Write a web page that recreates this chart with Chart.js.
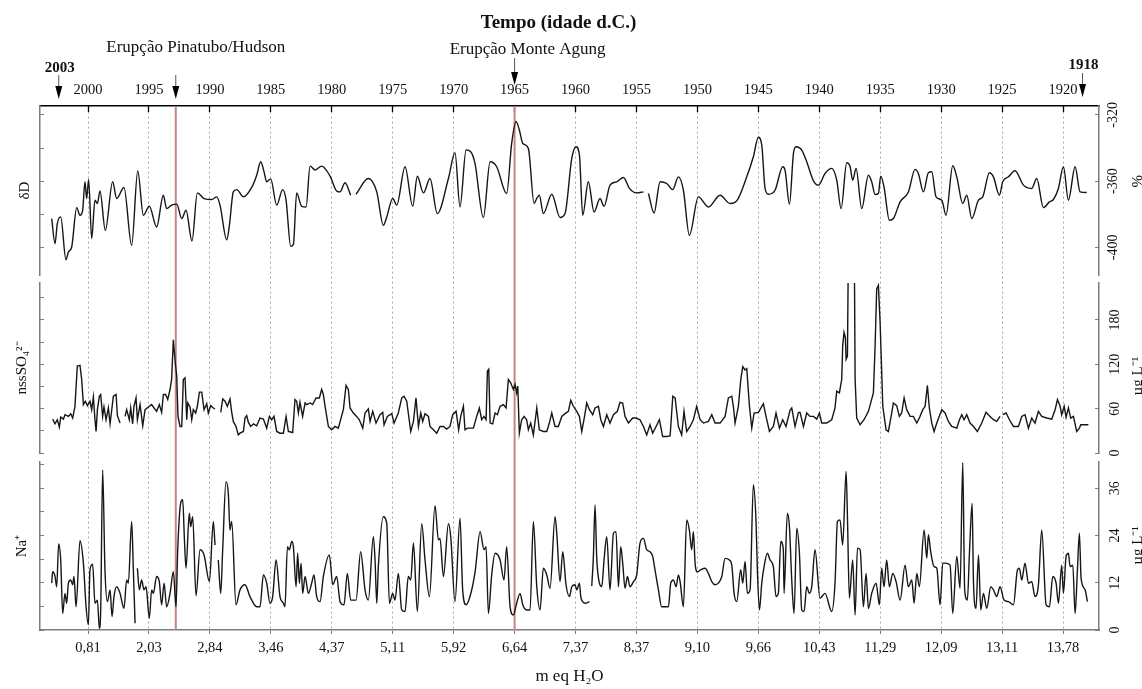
<!doctype html>
<html lang="pt">
<head>
  <meta charset="utf-8">
  <title>Tempo (idade d.C.)</title>
  <script src="https://cdn.jsdelivr.net/npm/chart.js@4.4.1/dist/chart.umd.min.js"></script>
  <style>
    html,body{margin:0;padding:0;background:#fff;}
    canvas{display:block;}
  </style>
</head>
<body>
<canvas id="chart" width="1142" height="689"></canvas>
<script>
/* ─── axis labels ─── */
const YEAR_TICKS   = [2000,1995,1990,1985,1980,1975,1970,1965,1960,1955,1950,1945,1940,1935,1930,1925,1920];
const DEPTH_LABELS = ['0,81','2,03','2,84','3,46','4,37','5,11','5,92','6,64','7,37','8,37','9,10','9,66','10,43','11,29','12,09','13,11','13,78'];

const EVENT_YEARS  = [1992.8, 1965.0];
const EVENT_LABELS = ['Erupção Pinatubo/Hudson', 'Erupção Monte Agung'];
const END_YEARS    = [2002.4, 1918.4];
const END_LABELS   = ['2003', '1918'];

const DD_TICKS  = [-400,-380,-360,-340,-320];
const DD_SHOWN  = [-400,-360,-320];
const SO4_TICKS = [0,30,60,90,120,150,180,210];
const SO4_SHOWN = [0,60,120,180];
const NA_TICKS  = [0,6,12,18,24,30,36,42];
const NA_SHOWN  = [0,12,24,36];

/* ─── series: [year, value], null = gap ─── */
const DD_SERIES = [
  [2002.98,-382.6],[2002.71,-397.8],[2002.52,-385.7],[2002.24,-381.6],[2001.81,-407.5],[2001.61,-402.8],[2001.34,-399.8],
  [2000.93,-376.0],[2000.66,-380.6],[2000.44,-377.6],[2000.25,-360.4],[2000.11,-370.5],[1999.95,-359.0],[1999.70,-394.7],
  [1999.43,-371.5],[1999.23,-373.5],[1999.02,-365.9],[1998.58,-389.7],[1997.98,-360.4],[1997.65,-370.5],[1997.05,-363.8],
  [1996.42,-398.8],[1995.92,-353.9],[1995.46,-380.6],[1994.97,-375.2],[1994.37,-387.7],[1993.82,-368.5],[1993.55,-376.6],
  [1993.14,-374.5],[1992.72,-373.9],[1992.31,-382.6],[1991.96,-377.6],[1991.47,-396.2],[1991.03,-367.1],[1990.48,-370.5],
  [1989.85,-371.1],[1989.44,-369.5],[1989.17,-374.5],[1988.62,-395.4],[1988.40,-386.7],[1988.08,-366.5],[1987.80,-365.1],
  [1987.25,-369.5],[1986.57,-363.8],[1986.16,-356.4],[1985.83,-348.3],[1985.56,-354.3],[1985.34,-360.4],[1985.01,-358.6],
  [1984.52,-374.5],[1984.03,-365.1],[1983.75,-371.5],[1983.37,-399.4],[1983.15,-398.2],[1982.88,-367.1],[1982.47,-375.2],
  [1982.11,-375.6],[1981.78,-350.9],[1981.37,-353.3],[1980.83,-350.9],[1980.14,-357.0],[1979.60,-365.9],[1979.32,-366.5],
  [1978.91,-361.0],[1978.45,-368.5],[1978.20,null],[1978.01,-367.9],[1977.00,-358.4],[1976.31,-366.5],[1975.77,-386.7],
  [1975.49,-381.6],[1975.00,-370.5],[1974.67,-374.5],[1973.99,-351.3],[1973.36,-375.2],[1972.98,-357.0],[1972.48,-367.1],
  [1971.94,-358.4],[1971.34,-379.6],[1970.43,-358.4],[1969.89,-342.8],[1969.48,-375.6],[1968.98,-341.2],[1968.60,-342.2],
  [1968.25,-349.3],[1967.56,-382.0],[1967.01,-348.3],[1966.47,-351.3],[1965.65,-367.5],[1965.24,-337.2],[1964.88,-324.0],
  [1964.61,-329.1],[1964.33,-337.2],[1963.87,-340.2],[1963.40,-373.5],[1963.19,-370.5],[1962.97,-368.5],[1962.64,-379.6],
  [1961.95,-367.9],[1961.27,-382.0],[1960.86,-379.6],[1960.31,-346.3],[1959.96,-339.2],[1959.68,-344.2],[1959.41,-380.6],
  [1958.95,-360.4],[1958.48,-378.6],[1957.99,-370.5],[1957.66,-375.2],[1957.17,-362.4],[1956.62,-360.4],[1956.07,-357.8],
  [1955.58,-364.4],[1954.98,-367.1],[1954.43,-366.5],[1954.20,null],[1954.02,-367.5],[1953.56,-379.2],[1953.06,-360.4],
  [1952.52,-361.4],[1952.03,-365.1],[1951.56,-357.4],[1951.15,-365.5],[1950.66,-392.7],[1949.92,-369.5],[1949.10,-375.6],
  [1948.14,-368.5],[1947.32,-373.5],[1946.77,-371.9],[1945.95,-357.4],[1945.41,-345.3],[1945.00,-333.5],[1944.72,-338.2],
  [1944.45,-364.4],[1944.18,-367.9],[1943.63,-365.5],[1943.00,-351.3],[1942.81,-353.3],[1942.45,-373.9],[1942.12,-343.2],
  [1941.91,-339.2],[1941.44,-341.2],[1941.03,-348.3],[1940.48,-359.8],[1940.07,-362.4],[1939.53,-355.4],[1938.98,-352.3],
  [1938.57,-359.4],[1938.21,-376.6],[1937.75,-348.9],[1937.47,-351.3],[1937.26,-359.4],[1936.98,-352.3],[1936.52,-376.6],
  [1935.97,-356.4],[1935.70,-360.4],[1935.42,-368.1],[1935.15,-367.5],[1934.96,-357.0],[1934.69,-363.4],[1934.25,-383.6],
  [1933.92,-382.6],[1933.37,-372.5],[1932.69,-366.5],[1932.14,-352.9],[1931.87,-355.4],[1931.46,-366.5],[1931.05,-354.9],
  [1930.77,-354.3],[1930.42,-369.5],[1929.95,-371.5],[1929.60,-380.6],[1929.05,-350.7],[1928.72,-357.4],[1928.23,-373.5],
  [1927.90,-368.5],[1927.49,-382.6],[1926.94,-371.5],[1926.59,-369.5],[1926.04,-354.9],[1925.71,-357.4],[1925.22,-368.5],
  [1924.95,-360.4],[1924.48,-357.4],[1923.94,-353.7],[1923.25,-362.4],[1922.57,-364.4],[1922.16,-358.4],[1921.61,-376.0],
  [1921.12,-372.5],[1920.79,-371.1],[1920.38,-364.4],[1919.97,-351.3],[1919.56,-371.5],[1919.01,-351.3],[1918.60,-366.5],
  [1918.06,-366.9]
];

const SO4_SERIES = [
  [2002.90,45.9],[2002.71,39.5],[2002.52,45.0],[2002.35,35.0],[2002.24,48.6],[2002.02,45.9],[2001.89,51.8],[2001.61,49.5],
  [2001.42,53.2],[2001.26,47.3],[2001.07,63.2],[2000.88,117.7],[2000.66,118.6],[2000.52,99.5],[2000.38,65.5],[2000.22,70.0],
  [2000.05,64.0],[1999.84,70.0],[1999.70,58.6],[1999.56,75.9],[1999.43,45.0],[1999.34,29.1],[1999.23,58.6],[1999.07,76.8],
  [1998.96,79.1],[1998.80,49.5],[1998.69,62.3],[1998.52,45.0],[1998.33,60.9],[1998.19,39.5],[1997.92,76.8],[1997.70,79.1],
  [1997.59,50.5],[1997.37,40.5],[1997.15,null],[1996.96,49.5],[1996.83,58.6],[1996.61,45.0],[1996.50,60.9],[1996.34,39.5],
  [1996.23,63.2],[1996.06,74.5],[1995.95,45.0],[1995.73,65.5],[1995.51,36.8],[1995.32,58.6],[1995.05,62.3],[1994.78,65.5],
  [1994.58,60.9],[1994.37,56.4],[1994.15,65.5],[1993.96,55.0],[1993.82,79.1],[1993.63,79.1],[1993.46,72.3],[1993.27,85.9],
  [1993.14,99.5],[1993.00,153.2],[1992.83,120.0],[1992.72,104.1],[1992.62,49.5],[1992.45,35.9],[1992.31,35.9],[1992.18,99.5],
  [1992.04,101.8],[1991.90,45.0],[1991.82,67.7],[1991.63,62.3],[1991.49,45.0],[1991.36,58.6],[1991.17,54.1],[1991.03,63.2],
  [1990.86,82.3],[1990.67,82.3],[1990.48,58.6],[1990.26,66.8],[1990.13,54.1],[1989.93,64.1],[1989.72,60.9],[1989.58,59.5],
  [1989.35,null],[1989.11,55.0],[1988.95,73.2],[1988.76,70.0],[1988.57,63.2],[1988.35,73.2],[1988.21,55.0],[1988.08,42.7],
  [1987.86,35.9],[1987.67,24.5],[1987.53,26.8],[1987.25,29.1],[1987.12,47.3],[1986.98,50.5],[1986.84,41.4],[1986.65,35.9],
  [1986.43,39.5],[1986.16,36.8],[1985.89,47.3],[1985.61,45.9],[1985.34,33.6],[1985.12,49.5],[1984.93,45.0],[1984.74,49.5],
  [1984.52,29.1],[1984.25,26.8],[1983.97,26.8],[1983.75,49.5],[1983.56,29.1],[1983.21,27.7],[1983.02,72.3],[1982.88,70.0],
  [1982.74,54.1],[1982.61,68.6],[1982.39,49.5],[1982.19,67.7],[1982.06,65.5],[1981.78,67.7],[1981.57,65.5],[1981.29,74.5],
  [1981.02,74.5],[1980.83,85.9],[1980.69,79.1],[1980.55,63.2],[1980.28,35.9],[1980.01,31.4],[1979.73,35.9],[1979.46,33.6],
  [1979.05,58.6],[1978.83,91.4],[1978.64,85.9],[1978.50,60.9],[1978.23,54.1],[1977.96,49.5],[1977.74,45.0],[1977.46,33.6],
  [1977.27,54.1],[1977.00,59.5],[1976.86,42.7],[1976.64,56.4],[1976.37,40.5],[1976.04,51.8],[1975.82,55.0],[1975.71,38.2],
  [1975.44,49.5],[1975.08,53.2],[1974.89,40.5],[1974.54,54.1],[1974.26,74.5],[1974.07,76.8],[1973.85,70.0],[1973.52,29.1],
  [1973.30,42.7],[1973.09,74.5],[1972.89,35.9],[1972.70,54.1],[1972.54,42.7],[1972.35,53.2],[1972.07,49.5],[1971.94,35.9],
  [1971.66,31.4],[1971.39,26.8],[1971.12,35.9],[1970.84,35.9],[1970.57,32.3],[1970.30,35.9],[1970.08,51.8],[1969.80,56.4],
  [1969.59,31.4],[1969.42,49.5],[1969.20,63.2],[1969.07,31.4],[1968.87,33.6],[1968.38,33.6],[1968.11,49.5],[1967.89,60.9],
  [1967.70,45.0],[1967.51,49.5],[1967.34,45.0],[1967.23,110.9],[1967.12,113.2],[1967.01,40.5],[1966.80,39.5],[1966.60,54.1],
  [1966.41,51.8],[1966.19,63.2],[1965.92,65.5],[1965.70,60.9],[1965.51,99.5],[1965.32,95.0],[1965.10,85.9],[1964.96,92.7],
  [1964.83,81.4],[1964.74,90.5],[1964.61,26.8],[1964.42,45.0],[1964.22,49.5],[1964.01,45.0],[1963.87,31.4],[1963.68,40.5],
  [1963.46,24.5],[1963.18,60.9],[1962.97,31.4],[1962.64,29.1],[1962.36,29.1],[1962.15,40.5],[1961.95,54.1],[1961.68,35.9],
  [1961.41,35.9],[1961.13,49.5],[1960.86,53.2],[1960.59,56.4],[1960.39,71.4],[1960.18,63.2],[1959.90,56.4],[1959.68,49.5],
  [1959.49,29.1],[1959.30,45.9],[1959.08,67.7],[1958.86,58.6],[1958.59,51.8],[1958.40,60.9],[1958.12,63.2],[1957.93,45.0],
  [1957.71,35.9],[1957.44,51.8],[1957.17,40.5],[1956.89,51.8],[1956.57,56.4],[1956.35,68.6],[1956.13,67.7],[1955.94,49.5],
  [1955.66,40.5],[1955.31,47.3],[1955.03,47.3],[1954.71,45.0],[1954.43,35.9],[1954.16,24.5],[1953.89,38.2],[1953.67,26.8],
  [1953.39,35.9],[1953.12,45.0],[1952.85,22.3],[1952.52,22.3],[1952.24,23.2],[1952.02,76.8],[1951.83,74.5],[1951.56,35.9],
  [1951.29,24.5],[1951.10,56.4],[1950.88,29.1],[1950.60,35.9],[1950.33,45.0],[1950.06,63.2],[1949.78,45.0],[1949.51,40.5],
  [1949.10,42.7],[1948.82,51.8],[1948.55,40.5],[1948.14,40.5],[1947.73,49.5],[1947.46,74.5],[1947.18,76.8],[1947.05,63.2],
  [1946.91,40.5],[1946.64,63.2],[1946.44,99.5],[1946.28,116.8],[1946.09,112.3],[1945.95,114.1],[1945.73,63.2],[1945.54,33.6],
  [1945.35,54.1],[1944.99,55.0],[1944.59,66.8],[1944.37,49.5],[1944.09,29.1],[1943.77,35.9],[1943.55,54.1],[1943.27,33.6],
  [1943.00,45.0],[1942.73,35.9],[1942.40,57.7],[1942.26,60.9],[1941.99,35.9],[1941.71,55.0],[1941.58,55.0],[1941.30,35.9],
  [1941.03,54.1],[1940.76,49.5],[1940.48,49.5],[1940.21,45.9],[1939.99,54.1],[1939.80,40.5],[1939.39,40.5],[1938.98,45.0],
  [1938.71,61.0],[1938.57,83.6],[1938.35,81.4],[1938.16,99.5],[1938.08,145.0],[1937.97,163.2],[1937.86,156.4],[1937.80,126.8],
  [1937.69,131.0],[1937.58,340.0],[1937.15,340.0],[1937.06,99.5],[1936.93,47.3],[1936.65,38.2],[1936.33,45.0],[1935.97,56.4],
  [1935.56,81.4],[1935.42,145.0],[1935.29,222.0],[1935.15,226.8],[1935.01,176.8],[1934.79,63.2],[1934.52,31.4],[1934.33,29.1],
  [1934.06,54.1],[1933.92,67.7],[1933.65,64.1],[1933.43,49.5],[1933.24,54.1],[1933.04,74.5],[1932.83,58.6],[1932.55,49.5],
  [1932.28,49.5],[1932.00,40.5],[1931.79,47.3],[1931.51,58.6],[1931.32,63.2],[1931.13,91.4],[1930.97,60.9],[1930.77,40.5],
  [1930.58,29.1],[1930.36,40.5],[1929.95,58.6],[1929.68,54.1],[1929.41,42.7],[1929.13,35.9],[1928.72,33.6],[1928.50,45.0],
  [1928.31,51.8],[1928.12,45.0],[1927.90,51.8],[1927.63,40.5],[1927.35,35.9],[1927.03,29.1],[1926.67,40.5],[1926.32,55.0],
  [1925.99,49.5],[1925.71,45.0],[1925.44,42.7],[1925.17,49.5],[1925.06,null],[1924.95,51.8],[1924.67,54.1],[1924.40,45.0],
  [1924.07,35.9],[1923.66,35.9],[1923.39,49.5],[1923.12,51.8],[1922.84,33.6],[1922.57,47.3],[1922.30,40.5],[1922.02,56.4],
  [1921.75,49.5],[1921.34,47.3],[1920.93,45.9],[1920.65,58.6],[1920.46,72.3],[1920.24,63.2],[1920.11,51.8],[1919.91,63.2],
  [1919.75,48.6],[1919.56,61.0],[1919.37,47.3],[1919.15,49.5],[1918.88,29.1],[1918.66,33.6],[1918.55,38.2],[1917.92,38.2]
];

const NA_SERIES = [
  [2002.98,11.9],[2002.90,14.8],[2002.71,13.7],[2002.57,11.0],[2002.41,21.9],[2002.24,17.8],[2002.08,4.2],[2001.89,9.3],
  [2001.75,6.8],[2001.61,11.9],[2001.42,12.7],[2001.26,11.5],[2001.15,13.6],[2000.98,5.9],[2000.66,22.7],[2000.38,17.0],
  [2000.16,5.9],[1999.97,1.3],[1999.84,15.3],[1999.62,16.7],[1999.43,6.8],[1999.23,7.6],[1999.07,0.4],[1998.96,5.1],
  [1998.80,40.7],[1998.61,15.3],[1998.41,7.2],[1998.19,10.2],[1998.03,3.4],[1997.87,8.5],[1997.65,11.0],[1997.37,9.3],
  [1997.05,5.5],[1996.83,12.7],[1996.69,11.9],[1996.42,27.6],[1996.28,15.3],[1996.14,1.7],[1996.05,null],[1995.95,15.7],
  [1995.79,10.2],[1995.60,12.7],[1995.41,10.2],[1995.24,11.0],[1994.97,3.0],[1994.78,10.2],[1994.64,9.3],[1994.37,13.6],
  [1994.15,12.3],[1993.96,6.4],[1993.76,11.9],[1993.55,5.9],[1993.27,9.3],[1993.00,14.8],[1992.78,5.9],[1992.64,20.4],
  [1992.40,32.2],[1992.23,33.1],[1992.10,23.7],[1991.96,15.7],[1991.69,29.7],[1991.58,26.3],[1991.41,28.8],[1991.14,8.7],
  [1990.81,20.4],[1990.48,19.1],[1990.04,12.3],[1989.72,27.6],[1989.58,21.6],[1989.45,null],[1989.31,17.8],[1989.11,9.3],
  [1988.95,20.4],[1988.68,37.7],[1988.49,34.8],[1988.35,25.4],[1988.21,27.6],[1987.86,6.4],[1987.53,10.2],[1987.12,11.5],
  [1986.71,8.5],[1986.16,5.9],[1985.89,5.9],[1985.61,14.0],[1985.34,11.9],[1985.07,6.8],[1984.85,8.5],[1984.57,17.8],
  [1984.25,8.5],[1983.97,6.8],[1983.84,5.9],[1983.64,21.2],[1983.48,20.4],[1983.29,22.5],[1983.15,21.2],[1982.93,11.0],
  [1982.80,19.5],[1982.66,11.9],[1982.52,17.0],[1982.39,9.3],[1982.19,13.6],[1981.92,9.3],[1981.65,11.9],[1981.46,14.0],
  [1981.24,8.5],[1980.96,7.2],[1980.69,13.6],[1980.20,19.1],[1979.92,11.5],[1979.60,13.6],[1979.32,7.2],[1979.00,6.4],
  [1978.72,14.4],[1978.45,7.6],[1978.01,7.6],[1977.63,19.9],[1977.27,10.2],[1977.00,7.6],[1976.59,23.7],[1976.45,17.8],
  [1976.31,6.8],[1976.18,16.1],[1975.77,28.8],[1975.49,27.1],[1975.27,6.8],[1975.00,9.3],[1974.81,7.6],[1974.54,14.4],
  [1974.26,5.1],[1973.99,4.7],[1973.72,13.6],[1973.52,12.7],[1973.30,22.1],[1972.98,4.7],[1972.62,27.0],[1972.35,17.8],
  [1971.99,8.5],[1971.53,31.6],[1971.25,22.9],[1971.12,23.3],[1970.84,13.6],[1970.43,27.0],[1970.24,23.7],[1969.89,7.2],
  [1969.48,28.4],[1969.26,10.2],[1968.98,6.4],[1968.66,8.5],[1968.24,14.8],[1967.83,25.0],[1967.51,20.4],[1967.34,21.2],
  [1967.15,4.2],[1966.88,14.0],[1966.60,19.5],[1966.19,17.8],[1965.87,12.7],[1965.65,21.2],[1965.37,5.9],[1965.10,3.8],
  [1964.83,6.8],[1964.55,9.3],[1964.33,6.4],[1964.01,5.1],[1963.73,5.1],[1963.46,27.6],[1963.18,11.0],[1962.91,5.1],
  [1962.64,15.7],[1962.36,14.0],[1962.09,10.6],[1961.68,28.8],[1961.54,24.6],[1961.27,12.3],[1961.05,19.9],[1960.78,11.5],
  [1960.50,8.5],[1960.31,11.0],[1960.04,11.5],[1959.90,10.2],[1959.68,11.9],[1959.57,8.5],[1959.41,7.2],[1959.22,6.8],
  [1958.86,7.2],[1958.76,null],[1958.67,11.2],[1958.54,18.2],[1958.40,31.8],[1958.26,18.2],[1958.04,11.9],[1957.85,11.0],
  [1957.66,17.8],[1957.44,23.7],[1957.17,10.2],[1956.89,24.6],[1956.68,25.0],[1956.48,11.0],[1956.29,21.2],[1956.13,17.0],
  [1955.94,10.6],[1955.74,13.6],[1955.53,11.0],[1955.25,12.3],[1954.98,14.0],[1954.71,22.1],[1954.43,23.3],[1954.16,20.4],
  [1953.89,19.9],[1953.67,18.7],[1953.48,15.3],[1953.20,10.2],[1952.93,5.9],[1952.65,5.9],[1952.38,5.9],[1952.19,11.9],
  [1951.97,12.7],[1951.75,11.0],[1951.56,14.0],[1951.42,12.3],[1951.15,5.9],[1950.88,28.0],[1950.66,25.4],[1950.47,20.4],
  [1950.33,25.0],[1950.19,17.0],[1950.00,14.8],[1949.73,15.3],[1949.37,15.7],[1949.10,14.4],[1948.82,12.3],[1948.55,11.5],
  [1948.28,11.9],[1948.00,13.6],[1947.73,18.2],[1947.38,17.8],[1947.18,16.5],[1946.99,9.3],[1946.77,7.2],[1946.45,15.3],
  [1946.28,11.9],[1946.09,17.4],[1945.90,9.3],[1945.68,10.2],[1945.41,36.9],[1945.19,27.6],[1945.08,15.3],[1944.91,5.1],
  [1944.72,11.9],[1944.53,16.1],[1944.26,19.5],[1944.04,17.8],[1943.77,16.1],[1943.55,8.5],[1943.36,9.3],[1943.16,22.5],
  [1942.95,20.4],[1942.89,9.3],[1942.62,29.7],[1942.45,26.3],[1942.26,12.7],[1942.07,4.2],[1941.85,25.9],[1941.63,19.5],
  [1941.44,5.1],[1941.25,4.7],[1941.03,11.0],[1940.81,9.3],[1940.62,11.0],[1940.35,20.4],[1939.94,8.1],[1939.53,9.3],
  [1938.98,4.7],[1938.71,11.9],[1938.51,27.6],[1938.30,28.0],[1938.08,21.6],[1937.80,40.3],[1937.69,28.8],[1937.53,8.1],
  [1937.26,17.8],[1937.06,3.8],[1936.87,20.8],[1936.65,20.4],[1936.38,5.9],[1936.16,14.4],[1935.97,5.5],[1935.70,9.3],
  [1935.34,11.9],[1935.07,6.4],[1934.88,15.7],[1934.69,11.0],[1934.47,17.8],[1934.25,11.0],[1933.97,14.4],[1933.70,12.3],
  [1933.37,7.6],[1932.96,16.5],[1932.69,11.0],[1932.41,12.7],[1932.22,6.8],[1932.00,14.4],[1931.79,11.0],[1931.40,25.4],
  [1931.18,18.2],[1931.05,24.2],[1930.86,19.9],[1930.58,16.1],[1930.36,15.7],[1930.09,6.4],[1929.87,17.0],[1929.68,17.0],
  [1929.27,16.5],[1929.05,4.2],[1928.72,18.7],[1928.45,10.6],[1928.23,42.5],[1928.07,10.2],[1927.85,7.6],[1927.68,19.5],
  [1927.46,32.2],[1927.35,12.3],[1927.14,5.5],[1926.94,19.1],[1926.75,5.1],[1926.53,9.3],[1926.26,5.5],[1925.93,11.0],
  [1925.71,10.2],[1925.44,8.5],[1925.17,11.0],[1924.84,7.6],[1924.48,7.2],[1924.07,6.4],[1923.74,15.3],[1923.58,15.7],
  [1923.39,12.7],[1923.12,17.0],[1922.84,11.9],[1922.57,12.3],[1922.30,8.5],[1922.02,11.5],[1921.75,25.4],[1921.39,6.4],
  [1921.12,5.9],[1920.84,13.6],[1920.57,11.9],[1920.38,6.8],[1920.11,16.5],[1919.97,9.3],[1919.75,18.7],[1919.56,19.5],
  [1919.42,16.1],[1919.20,16.5],[1919.01,4.2],[1918.82,15.3],[1918.66,24.6],[1918.52,13.2],[1918.19,10.2],[1918.00,7.2]
];

/* ─── look ─── */
const SERIF        = '"Liberation Serif", "Times New Roman", Times, serif';
const INK          = '#161616';
const AXIS_GREY    = '#7c7c7c';
const GRID_GREY    = '#a8a8a8';
const ERUPTION_RED = '#c4877f';
const LEFT_W = 40, RIGHT_W = 43, TOP_H = 106, BOTTOM_H = 59;
const X_MIN = 1917.05, X_MAX = 2003.94;

Chart.defaults.font.family = SERIF;
Chart.defaults.color = '#111';

// one entry per stacked panel, top to bottom
const PANELS = [
  {id:'dD',  data:DD_SERIES,  min:-416.7, max:-314.6, ticks:DD_TICKS,  shown:DD_SHOWN,  title:'δD',        unit:'%',       unitAt:-360, weight:169, pad:5,   titlePad:16, smooth:true},
  {id:'so4', data:SO4_SERIES, min:0,      max:230,    ticks:SO4_TICKS, shown:SO4_SHOWN, title:'nssSO₄²⁻',   unit:'µg L⁻¹',  unitAt:104,  weight:170, pad:9.5, titlePad:13, smooth:false},
  {id:'na',  data:NA_SERIES,  min:0,      max:42.7,   ticks:NA_TICKS,  shown:NA_SHOWN,  title:'Na⁺',        unit:'µg L⁻¹',  unitAt:21.5, weight:168, pad:13,  titlePad:13, smooth:true},
];
const GAP_WEIGHTS = [8, 9];

const fixTicks = list => s => { s.ticks = list.map(v => ({value:v})); };

const rightAxis = p => ({
  type:'linear', position:'right', stack:'panels', stackWeight:p.weight, min:p.min, max:p.max,
  afterBuildTicks: fixTicks(p.ticks),
  afterFit: s => { s.width = RIGHT_W; },
  ticks:{callback:v => p.shown.includes(v) ? String(v) : '', minRotation:90, maxRotation:90,
         crossAlign:'center', padding:p.pad, font:{size:14}, color:'#111'},
  grid:{drawOnChartArea:false, tickLength:-4, color:AXIS_GREY, lineWidth:1},
  border:{color:AXIS_GREY, width:1.5}
});
const leftAxis = p => ({
  type:'linear', position:'left', stack:'panels', stackWeight:p.weight, min:p.min, max:p.max,
  afterBuildTicks: fixTicks(p.ticks),
  afterFit: s => { s.width = LEFT_W; },
  ticks:{display:false},
  grid:{drawOnChartArea:false, tickLength:-4, color:AXIS_GREY, lineWidth:1},
  border:{color:AXIS_GREY, width:1.5},
  title:{display:true, text:p.title, font:{size:15}, color:'#111', padding:{top:p.titlePad, bottom:0}}
});
const gapAxis = (pos, w) => ({type:'linear', position:pos, stack:'panels', stackWeight:w, display:false});

const scales = {
  x:{
    type:'linear', position:'top', reverse:true, min:X_MIN, max:X_MAX,
    afterBuildTicks: fixTicks(YEAR_TICKS),
    afterFit: s => { s.height = TOP_H; },
    ticks:{callback:v => String(v), font:{size:14.5}, padding:13, autoSkip:false, maxRotation:0, color:'#111'},
    grid:{color:GRID_GREY, lineWidth:1, tickLength:-6, tickColor:'#000', tickWidth:1.3},
    border:{color:'#000', width:1.6, dash:[2,3]}
  },
  xb:{
    type:'linear', position:'bottom', reverse:true, min:X_MIN, max:X_MAX,
    afterBuildTicks: fixTicks(YEAR_TICKS),
    afterFit: s => { s.height = BOTTOM_H; },
    ticks:{callback:(v, i) => DEPTH_LABELS[i], font:{size:14.5}, padding:5, autoSkip:false, maxRotation:0, color:'#111'},
    grid:{drawOnChartArea:false, tickLength:4, color:AXIS_GREY},
    border:{color:AXIS_GREY, width:1.5},
    title:{display:true, text:'m eq H₂O', font:{size:17}, color:'#111', padding:{top:0, bottom:2}}
  }
};
// right stack: Chart.js stacks right boxes in definition order
PANELS.forEach((p, i) => {
  scales['r' + p.id] = rightAxis(p);
  if (i < GAP_WEIGHTS.length) scales['rg' + i] = gapAxis('right', GAP_WEIGHTS[i]);
});
// left stack: left boxes are stacked in reverse definition order
for (let i = PANELS.length - 1; i >= 0; i--) {
  scales['l' + PANELS[i].id] = leftAxis(PANELS[i]);
  if (i > 0) scales['lg' + (i - 1)] = gapAxis('left', GAP_WEIGHTS[i - 1]);
}

/* keep each series inside its own panel */
const panelClip = {
  id:'panelClip',
  beforeDatasetDraw(chart, args){
    const y = chart.scales[args.meta.yAxisID], {left, right} = chart.chartArea, ctx = chart.ctx;
    ctx.save();
    ctx.beginPath();
    ctx.rect(left, y.top, right - left, y.bottom - y.top);
    ctx.clip();
  },
  afterDatasetDraw(chart){ chart.ctx.restore(); }
};

const arrow = (ctx, px, y0, tip, h, w) => {
  ctx.strokeStyle = '#555'; ctx.lineWidth = 1;
  ctx.beginPath(); ctx.moveTo(px, y0); ctx.lineTo(px, tip - h); ctx.stroke();
  ctx.fillStyle = '#000';
  ctx.beginPath(); ctx.moveTo(px - w/2, tip - h); ctx.lineTo(px + w/2, tip - h); ctx.lineTo(px, tip); ctx.closePath(); ctx.fill();
};

const annotate = {
  id:'annotate',
  beforeDatasetsDraw(chart){
    const {ctx, chartArea:{top, bottom}, scales:{x}} = chart;
    ctx.save();
    ctx.strokeStyle = ERUPTION_RED; ctx.lineWidth = 2;
    EVENT_YEARS.forEach(yr => {
      const px = x.getPixelForValue(yr);
      ctx.beginPath(); ctx.moveTo(px, top); ctx.lineTo(px, bottom); ctx.stroke();
    });
    ctx.restore();
  },
  afterDraw(chart){
    const {ctx, chartArea, scales} = chart, x = scales.x;
    ctx.save();
    ctx.textAlign = 'center'; ctx.textBaseline = 'middle';

    ctx.fillStyle = '#111';
    ctx.font = `bold 19px ${SERIF}`;
    ctx.fillText('Tempo (idade d.C.)', (chartArea.left + chartArea.right)/2 - 11, 23);

    // eruption labels + arrows
    const evDx = [20, 13], evY = [48, 50], evTop = [75, 58], evTip = [99, 85];
    EVENT_YEARS.forEach((yr, i) => {
      const px = x.getPixelForValue(yr);
      ctx.fillStyle = '#111';
      ctx.font = `17px ${SERIF}`;
      ctx.fillText(EVENT_LABELS[i], px + evDx[i], evY[i]);
      arrow(ctx, px, evTop[i], evTip[i], 13, 7);
    });

    // record ends
    const endY = [68, 65], endTop = [75, 73], endTip = [99, 97];
    END_YEARS.forEach((yr, i) => {
      const px = x.getPixelForValue(yr);
      ctx.fillStyle = '#111';
      ctx.font = `bold 15px ${SERIF}`;
      ctx.fillText(END_LABELS[i], px + 1, endY[i]);
      arrow(ctx, px, endTop[i], endTip[i], 13, 7);
    });

    // unit titles on the right, reading upwards
    ctx.font = `15px ${SERIF}`;
    ctx.fillStyle = '#111';
    PANELS.forEach(p => {
      const yPix = scales['r' + p.id].getPixelForValue(p.unitAt);
      ctx.save();
      ctx.translate(chartArea.right + 39, yPix);
      ctx.rotate(-Math.PI/2);
      ctx.fillText(p.unit, 0, 0);
      ctx.restore();
    });
    ctx.restore();
  }
};

new Chart(document.getElementById('chart'), {
  type:'line',
  data:{
    datasets: PANELS.map(p => ({
      label:p.title,
      data:p.data.map(([x, y]) => ({x, y})),
      xAxisID:'x', yAxisID:'r' + p.id,
      borderColor:INK, borderWidth:1.4, pointRadius:0, fill:false, spanGaps:false,
      tension:0, cubicInterpolationMode: p.smooth ? 'monotone' : 'default'
    }))
  },
  options:{
    responsive:false, animation:false, events:[],
    layout:{padding:0},
    plugins:{legend:{display:false}, tooltip:{enabled:false}},
    scales
  },
  plugins:[panelClip, annotate]
});
</script>
</body>
</html>
